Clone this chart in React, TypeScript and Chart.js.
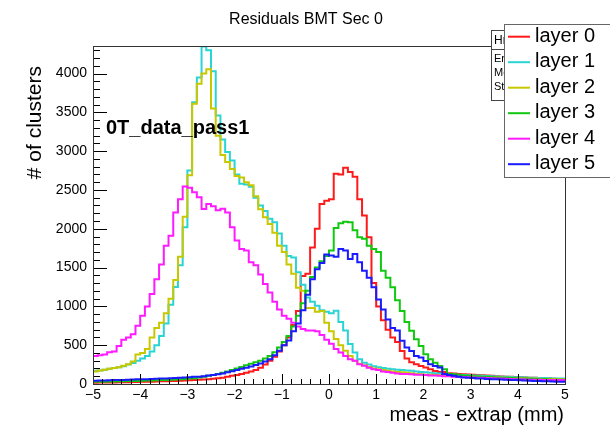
import React, { useEffect, useRef } from "react";
import { Chart, registerables } from "chart.js";

Chart.register(...registerables);

// Histogram binning: 100 bins from -5 to 5 (mm)
const binLow = -5;
const binHigh = 5;
const binWidth = 0.1;

const xTicks = [-5, -4, -3, -2, -1, 0, 1, 2, 3, 4, 5];
const yTicks = [0, 500, 1000, 1500, 2000, 2500, 3000, 3500, 4000];
const yMax = 4355;
const yStep = 500;

const layerLabels = ["layer 0", "layer 1", "layer 2", "layer 3", "layer 4", "layer 5"];
const layerColors = ["#ff1a1a", "#2ad4d4", "#c8c800", "#10c810", "#ff1aff", "#1a1aff"];

const layer0 = [
  15, 16, 18, 18, 20, 20, 22, 22, 24, 25,
  26, 28, 30, 30, 32, 34, 36, 38, 40, 42,
  45, 48, 50, 55, 58, 62, 68, 75, 82, 95,
  105, 115, 130, 145, 160, 180, 210, 250, 300, 350,
  420, 500, 600, 760, 940, 1390, 1420, 1760, 2000, 2320,
  2360, 2380, 2710, 2700, 2785, 2730, 2670, 2380, 2170, 1890,
  1300, 1000, 820, 700, 600, 540, 426, 330, 280, 255,
  232, 211, 190, 168, 155, 155, 140, 134, 130, 125,
  122, 118, 115, 112, 108, 105, 100, 98, 95, 92,
  90, 88, 85, 82, 80, 76, 74, 70, 68, 65,
];
const layer1 = [
  185, 170, 175, 185, 195, 205, 215, 230, 250, 270,
  300, 330, 360, 420, 500, 620, 780, 1020, 1250, 1530,
  2020, 2750, 3630, 3950, 4350, 4300, 4030, 3460, 3150, 2990,
  2880, 2700, 2580, 2570, 2540, 2400, 2300, 2230, 2130, 2085,
  1940, 1780, 1650, 1630, 1440, 1280, 1115, 1060, 1007, 950,
  930, 910, 943, 800, 690, 515, 405, 320, 275, 250,
  230, 215, 205, 195, 190, 185, 180, 175, 170, 160,
  155, 150, 145, 140, 135, 130, 125, 120, 118, 115,
  112, 110, 108, 105, 102, 100, 98, 95, 92, 90,
  88, 86, 84, 82, 80, 78, 76, 74, 72, 70,
];
const layer2 = [
  190, 160, 175, 185, 195, 205, 215, 235, 255, 290,
  380, 400, 450, 600, 720, 790, 910, 1100, 1340, 1640,
  2155, 2690, 3610, 3870, 4000, 4055, 3550, 3200, 2950, 2860,
  2770, 2680, 2660, 2600, 2560, 2420, 2250, 2150, 2060, 1950,
  1780, 1700, 1540, 1420, 1240, 1200, 980, 980, 930, 940,
  790, 680, 580, 500, 430, 360, 300, 260, 240, 220,
  200, 190, 180, 170, 160, 155, 150, 145, 140, 130,
  125, 120, 118, 115, 112, 110, 108, 105, 102, 100,
  98, 96, 94, 92, 90, 88, 86, 84, 82, 80,
  78, 76, 74, 72, 70, 68, 66, 65, 64, 62,
];
const layer3 = [
  25, 28, 30, 30, 32, 32, 35, 35, 38, 40,
  40, 42, 45, 45, 48, 50, 52, 55, 58, 60,
  65, 70, 75, 85, 95, 105, 115, 130, 145, 160,
  180, 200, 220, 240, 260, 280, 300, 330, 360, 410,
  470, 540, 620, 740, 880, 1040, 1200, 1380, 1500, 1580,
  1650, 1720, 2010, 2070, 2090, 2085, 1980, 1890, 1870, 1780,
  1740, 1700, 1460, 1370, 1245, 1080, 940, 800, 685, 577,
  491, 383, 318, 275, 232, 190, 130, 125, 115, 110,
  105, 100, 98, 95, 92, 88, 85, 82, 80, 78,
  75, 72, 70, 68, 65, 62, 60, 58, 56, 55,
];
const layer4 = [
  270, 360, 370, 380, 410, 420, 490, 570, 600, 640,
  750, 880, 1000, 1160, 1350, 1540, 1780, 1910, 2210, 2380,
  2545, 2530, 2470, 2405, 2255, 2320, 2290, 2240, 2257, 2210,
  2020, 1850, 1740, 1720, 1570, 1530, 1410, 1290, 1180, 1060,
  960, 880, 840, 790, 740, 710, 690, 690, 680, 630,
  570, 520, 450, 405, 360, 320, 300, 255, 235, 210,
  190, 180, 160, 155, 145, 135, 130, 130, 125, 120,
  120, 115, 110, 110, 105, 100, 100, 95, 95, 90,
  88, 85, 82, 80, 78, 75, 72, 70, 68, 65,
  62, 60, 58, 56, 55, 54, 52, 51, 50, 50,
];
const layer5 = [
  40, 42, 45, 45, 48, 50, 50, 52, 55, 58,
  60, 62, 62, 65, 68, 70, 72, 75, 78, 80,
  85, 88, 92, 95, 100, 108, 115, 125, 135, 150,
  165, 180, 195, 210, 225, 245, 265, 290, 320, 370,
  430, 500, 560, 680, 780, 950, 1150, 1350, 1480, 1560,
  1670, 1655, 1640, 1740, 1720, 1610, 1675, 1570, 1460, 1370,
  1245, 1090, 960, 830, 720, 690, 556, 470, 425, 362,
  340, 297, 254, 232, 211, 130, 115, 105, 95, 85,
  80, 76, 72, 70, 66, 62, 60, 58, 55, 52,
  50, 48, 45, 42, 40, 38, 36, 34, 32, 30,
];

const layerValues = [layer0, layer1, layer2, layer3, layer4, layer5];

const FONT = '"Liberation Sans", Arial, Helvetica, sans-serif';

function toSteps(values: number[]) {
  const pts = values.map((v, i) => ({ x: binLow + i * binWidth, y: v }));
  pts.push({ x: binHigh, y: values[values.length - 1] });
  return pts;
}

const rootDecor = {
  id: "rootDecor",
  afterDraw(chart: any) {
    const ctx: CanvasRenderingContext2D = chart.ctx;
    const { left, top, right, bottom } = chart.chartArea;
    const xs = chart.scales.x;
    const ys = chart.scales.y;
    ctx.save();

    // axis ticks (inside the frame, ROOT style)
    ctx.strokeStyle = "#000";
    ctx.lineWidth = 1;
    ctx.beginPath();
    for (let k = 0; k <= 50; k++) {
      const v = binLow + k * 0.2;
      const px = Math.round(xs.getPixelForValue(v)) + 0.5;
      const len = k % 5 === 0 ? 10 : 5;
      ctx.moveTo(px, bottom);
      ctx.lineTo(px, bottom - len);
    }
    for (let v = 0; v <= yMax; v += 100) {
      const py = Math.round(ys.getPixelForValue(v)) + 0.5;
      const len = v % yStep === 0 ? 14 : 7;
      ctx.moveTo(left, py);
      ctx.lineTo(left + len, py);
    }
    ctx.stroke();

    // frame
    ctx.strokeStyle = "#333";
    ctx.strokeRect(left + 0.5, top + 0.5, right - left, bottom - top);

    // title
    ctx.fillStyle = "#000";
    ctx.font = `16px ${FONT}`;
    ctx.textAlign = "center";
    ctx.textBaseline = "alphabetic";
    ctx.fillText("Residuals BMT Sec 0", 306, 24);

    // x-axis title
    ctx.font = `20px ${FONT}`;
    ctx.textAlign = "right";
    ctx.fillText("meas - extrap (mm)", 564, 421);

    // y-axis title
    ctx.save();
    ctx.font = `21px ${FONT}`;
    ctx.translate(41, 66);
    ctx.rotate(-Math.PI / 2);
    ctx.textAlign = "right";
    ctx.textBaseline = "alphabetic";
    ctx.fillText("# of clusters", 0, 0);
    ctx.restore();

    // label
    ctx.font = `bold 20px ${FONT}`;
    ctx.textAlign = "left";
    ctx.fillText("0T_data_pass1", 106, 134);

    // stat box (mostly hidden behind legend)
    ctx.fillStyle = "#fff";
    ctx.fillRect(491.5, 30.5, 130, 70);
    ctx.strokeStyle = "#444";
    ctx.strokeRect(491.5, 30.5, 130, 70);
    ctx.beginPath();
    ctx.moveTo(491.5, 49.5);
    ctx.lineTo(621.5, 49.5);
    ctx.stroke();
    ctx.fillStyle = "#000";
    ctx.font = `12px ${FONT}`;
    ctx.textAlign = "left";
    ctx.fillText("Hres", 494, 44);
    ctx.font = `11px ${FONT}`;
    ctx.fillText("Entries", 494, 62);
    ctx.fillText("Mean", 494, 76);
    ctx.fillText("Std Dev", 494, 90);

    // legend
    ctx.fillStyle = "#fff";
    ctx.fillRect(504.5, 24.5, 120, 153);
    ctx.strokeStyle = "#666";
    ctx.strokeRect(504.5, 24.5, 120, 153);
    ctx.font = `20px ${FONT}`;
    chart.data.datasets.forEach((ds: any, i: number) => {
      const y = 36.7 + i * 25.5;
      ctx.strokeStyle = ds.borderColor;
      ctx.lineWidth = 2;
      ctx.beginPath();
      ctx.moveTo(508, y);
      ctx.lineTo(530, y);
      ctx.stroke();
      ctx.fillStyle = "#000";
      ctx.fillText(ds.label, 535, y + 5);
    });

    ctx.restore();
  },
};

export default function App() {
  const canvasRef = useRef<HTMLCanvasElement | null>(null);

  useEffect(() => {
    document.body.style.margin = "0";
    const canvas = canvasRef.current;
    if (!canvas) return;
    const chart = new Chart(canvas, {
      type: "line",
      data: {
        datasets: layerValues.map((vals, i) => ({
          label: layerLabels[i],
          data: toSteps(vals),
          borderColor: layerColors[i],
          backgroundColor: layerColors[i],
          borderWidth: 2,
          pointRadius: 0,
          stepped: "after" as const,
          fill: false,
          tension: 0,
          order: layerValues.length - i,
        })),
      },
      options: {
        animation: false,
        responsive: false,
        devicePixelRatio: 1,
        layout: { padding: { top: 46, right: 45, left: 0, bottom: 0 } },
        plugins: {
          legend: { display: false },
          title: { display: false },
          tooltip: { enabled: false },
        },
        scales: {
          x: {
            type: "linear",
            min: binLow,
            max: binHigh,
            afterFit: (s: any) => {
              s.height = 47;
            },
            afterBuildTicks: (s: any) => {
              s.ticks = xTicks.map((v) => ({ value: v }));
            },
            ticks: {
              autoSkip: false,
              maxRotation: 0,
              padding: 3,
              color: "#000",
              font: { family: FONT, size: 14 },
              callback: (v: any) => (Number(v) < 0 ? "\u2212" + Math.abs(Number(v)) : String(v)),
            },
            grid: { display: false, drawTicks: false },
            border: { display: false },
          },
          y: {
            type: "linear",
            min: 0,
            max: yMax,
            afterFit: (s: any) => {
              s.width = 93;
            },
            afterBuildTicks: (s: any) => {
              s.ticks = yTicks.map((v) => ({ value: v }));
            },
            ticks: {
              autoSkip: false,
              padding: 6,
              color: "#000",
              font: { family: FONT, size: 14 },
              callback: (v: any) => String(v),
            },
            grid: { display: false, drawTicks: false },
            border: { display: false },
          },
        },
      },
      plugins: [rootDecor],
    });
    return () => chart.destroy();
  }, []);

  return (
    <div style={{ width: 610, height: 431, background: "#fff" }}>
      <canvas ref={canvasRef} width={610} height={431} style={{ display: "block" }} />
    </div>
  );
}
